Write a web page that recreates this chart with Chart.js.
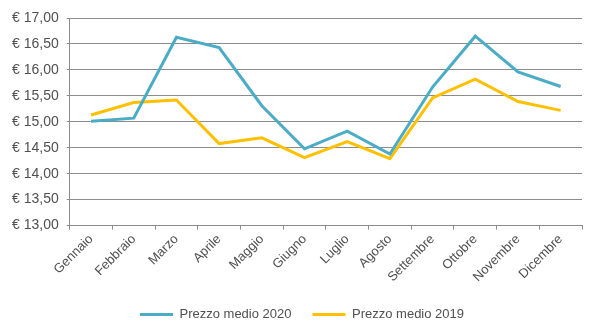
<!DOCTYPE html>
<html>
<head>
<meta charset="utf-8">
<script src="https://cdn.jsdelivr.net/npm/chart.js@4"></script>
<style>
  html, body { margin: 0; padding: 0; background: #fff; }
  #wrap { width: 600px; height: 336px; }
</style>
</head>
<body>
<div id="wrap"><canvas id="c" width="600" height="336"></canvas></div>
<script>
const mesi = ['Gennaio', 'Febbraio', 'Marzo', 'Aprile', 'Maggio', 'Giugno',
              'Luglio', 'Agosto', 'Settembre', 'Ottobre', 'Novembre', 'Dicembre'];
const prezzo2020 = [15.01, 15.07, 16.63, 16.43, 15.31, 14.48, 14.82, 14.38, 15.67, 16.65, 15.96, 15.68];
const prezzo2019 = [15.13, 15.37, 15.42, 14.58, 14.69, 14.31, 14.62, 14.29, 15.46, 15.82, 15.39, 15.22];
const yMin = 13, yMax = 17, yStep = 0.5;

const FONT = "'Liberation Sans', Arial, sans-serif";
const TEXT = '#505050';
const GRID = '#8c8c8c';

// centre the legend on the canvas instead of on the padded layout box
const legendShift = {
  id: 'legendShift',
  afterLayout(chart) {
    const lg = chart.legend;
    if (!lg) return;
    const dx = Math.round(chart.width / 2 + 2 - (lg.left + lg.right) / 2);
    lg.left += dx;
    lg.right += dx;
  }
};

new Chart(document.getElementById('c'), {
  type: 'line',
  data: {
    labels: mesi,
    datasets: [
      { label: 'Prezzo medio 2020', data: prezzo2020, borderColor: '#4bacc6', backgroundColor: '#4bacc6',
        borderWidth: 3, pointRadius: 0, tension: 0 },
      { label: 'Prezzo medio 2019', data: prezzo2019, borderColor: '#ffc000', backgroundColor: '#ffc000',
        borderWidth: 3, pointRadius: 0, tension: 0 }
    ]
  },
  plugins: [legendShift],
  options: {
    responsive: false,
    animation: false,
    layout: { padding: { top: 18, right: 18, left: 4, bottom: 5 } },
    plugins: {
      legend: {
        position: 'bottom',
        labels: {
          font: { family: FONT, size: 13 },
          color: TEXT,
          boxWidth: 33,
          boxHeight: 3,
          padding: 21,
          generateLabels(chart) {
            return chart.data.datasets.map((ds, i) => ({
              text: ds.label, fillStyle: ds.borderColor, strokeStyle: ds.borderColor,
              lineWidth: 0, datasetIndex: i, fontColor: TEXT
            }));
          }
        }
      },
      tooltip: { enabled: false }
    },
    scales: {
      x: {
        offset: true,
        grid: { offset: true, drawOnChartArea: false, color: GRID, tickLength: 4 },
        border: { color: GRID },
        ticks: { font: { family: FONT, size: 13 }, color: TEXT, minRotation: 45, maxRotation: 45, padding: 2 }
      },
      y: {
        min: yMin, max: yMax,
        grid: { color: GRID, tickLength: 3 },
        border: { color: GRID },
        ticks: {
          stepSize: yStep,
          font: { family: FONT, size: 14 }, color: TEXT, padding: 8,
          callback: v => '€ ' + Number(v).toFixed(2).replace('.', ',')
        }
      }
    }
  }
});
</script>
</body>
</html>
